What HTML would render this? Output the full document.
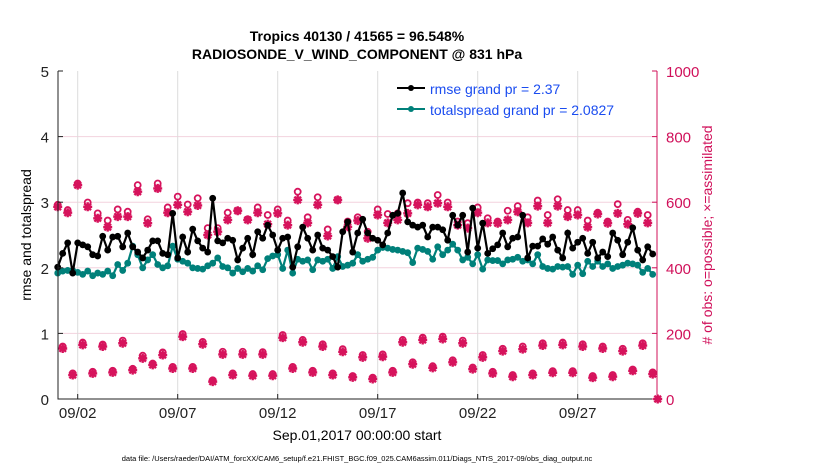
<!DOCTYPE html>
<html><head><meta charset="utf-8"><style>
body{margin:0;background:#fff;width:830px;height:470px;overflow:hidden}
svg{font-family:"Liberation Sans",Arial,sans-serif}
</style></head><body>
<svg id="chart" width="830" height="470" xmlns="http://www.w3.org/2000/svg">
<text x="357" y="41" text-anchor="middle" font-size="14" font-weight="bold">Tropics 40130 / 41565 = 96.548%</text>
<text x="357" y="59" text-anchor="middle" font-size="14" font-weight="bold">RADIOSONDE_V_WIND_COMPONENT @ 831 hPa</text>
<g id="grid"></g>
<g id="marks"></g>
<g id="axes"></g>
<text transform="translate(31,235) rotate(-90)" text-anchor="middle" font-size="14">rmse and totalspread</text>
<text transform="translate(712,235) rotate(-90)" text-anchor="middle" font-size="14" fill="#d0105a"># of obs: o=possible; ×=assimilated</text>
<text x="357" y="440" text-anchor="middle" font-size="14">Sep.01,2017 00:00:00 start</text>
<text x="357" y="461" text-anchor="middle" font-size="7.5">data file: /Users/raeder/DAI/ATM_forcXX/CAM6_setup/f.e21.FHIST_BGC.f09_025.CAM6assim.011/Diags_NTrS_2017-09/obs_diag_output.nc</text>
<g>
<line x1="397" y1="88" x2="425" y2="88" stroke="#000" stroke-width="2"/><circle cx="411" cy="88" r="3" fill="#000"/>
<text x="430" y="94" font-size="14" fill="#1a4cf0">rmse grand pr = 2.37</text>
<line x1="397" y1="109" x2="425" y2="109" stroke="#00807a" stroke-width="2"/><circle cx="411" cy="109" r="3" fill="#00807a"/>
<text x="430" y="115" font-size="14" fill="#1a4cf0">totalspread grand pr = 2.0827</text>
</g>
</svg>
<script>
const rmse=[2.01,2.22,2.38,1.92,2.38,2.35,2.32,2.2,2.18,2.48,2.27,2.47,2.48,2.32,2.53,2.32,2.24,2.15,2.27,2.41,2.41,2.22,2.2,2.83,2.15,2.47,2.24,2.59,2.41,2.3,2.24,3.06,2.41,2.38,2.45,2.42,2.12,2.3,2.45,2.2,2.55,
2.45,2.65,2.5,2.27,2.45,2.47,2.01,2.32,2.62,2.45,2.27,2.5,2.3,2.27,2.17,2.01,2.55,2.7,2.24,2.53,2.74,2.53,2.45,2.42,2.35,2.53,2.8,2.83,3.14,2.7,2.65,2.62,2.65,2.47,2.62,2.62,2.58,2.42,2.8,2.65,
2.8,2.24,2.91,2.3,2.68,2.22,2.29,2.35,2.53,2.32,2.45,2.47,2.8,2.15,2.33,2.33,2.44,2.36,2.47,2.27,2.15,2.53,2.3,2.39,2.45,2.22,2.39,2.15,2.24,2.17,2.53,2.42,2.2,2.39,2.61,2.27,2.12,2.32,2.21];
const spread=[1.92,1.95,1.96,1.96,1.93,1.9,1.95,1.88,1.92,1.9,1.95,1.88,2.05,1.96,2.07,2.33,2.2,2.0,2.12,2.2,2.05,2.0,2.03,2.33,2.13,2.1,2.07,2.0,1.99,1.98,2.03,2.07,2.15,2.02,2.0,1.92,1.99,1.94,1.99,1.95,2.03,
1.97,2.14,2.18,2.2,1.99,2.27,1.92,2.13,2.1,2.12,1.97,2.12,2.1,2.13,1.99,2.17,2.02,2.04,2.07,2.2,2.1,2.13,2.16,2.27,2.31,2.3,2.28,2.27,2.25,2.23,2.08,2.3,2.28,2.25,2.13,2.32,2.2,2.27,2.36,2.27,
2.12,2.16,2.06,2.2,1.98,2.12,2.11,2.11,2.06,2.12,2.13,2.16,2.1,2.12,2.06,2.2,2.02,1.99,1.98,2.02,2.01,2.02,1.9,2.04,1.91,2.1,2.02,2.1,2.02,2.06,1.99,2.02,2.04,2.07,2.06,2.04,1.93,1.99,1.9];
const possibleHigh=[592,576,657,599,566,544,578,571,652,548,657,584,617,593,612,521,521,568,574,548,584,561,578,544,632,554,615,517,607,541,554,510,578,564,566,597,599,597,622,599,541,536,584,551,541,574,588,554,605,561,609,576,576,544,568,541,594,546,571,561];
const assimHigh=[586,568,652,586,551,524,556,556,632,536,642,568,592,571,590,500,510,546,574,546,568,533,566,530,607,537,592,497,607,525,544,490,561,537,546,566,592,586,597,586,530,521,568,537,536,546,571,537,588,537,588,556,561,524,564,536,566,533,566,537];
const assimLow=[154,73,165,78,160,81,170,88,124,104,134,93,190,93,167,53,136,73,136,71,136,71,187,93,173,81,160,73,144,66,127,61,129,81,173,106,180,95,183,112,170,91,127,78,146,68,152,73,163,80,165,80,160,65,154,68,146,86,163,76];
const possibleLow=[160,78,172,83,166,86,178,92,132,108,142,98,198,98,174,57,144,78,144,76,143,76,195,98,180,86,167,78,152,70,134,65,136,86,180,112,187,100,190,118,178,96,134,83,153,73,160,78,170,85,172,85,167,70,160,73,153,90,170,81];
const xTicks=["09/02","09/07","09/12","09/17","09/22","09/27"];
const xTickDays=[1,6,11,16,21,26];
const yTicksL=[0,1,2,3,4,5];
const yTicksR=[0,200,400,600,800,1000];

const NS="http://www.w3.org/2000/svg";
const X0=57.7,PX_DAY=20,L=58,R=657,T=71,B=399;
const xDay=d=>X0+d*PX_DAY;
const xIdx=i=>xDay(i/4);
const yL=v=>B-(v/5)*(B-T);
const yR=c=>B-(c/1000)*(B-T);
function mk(tag,attrs,parent){const e=document.createElementNS(NS,tag);for(const k in attrs)e.setAttribute(k,attrs[k]);parent.appendChild(e);return e;}
const grid=document.getElementById('grid'),marks=document.getElementById('marks'),axes=document.getElementById('axes');

yTicksR.slice(1,5).forEach(c=>{const l=mk('line',{x1:L,x2:R,y1:yR(c),y2:yR(c),stroke:'#f3d2de','stroke-width':1},grid);

});
xTickDays.forEach(d=>{const l=mk('line',{x1:xDay(d),x2:xDay(d),y1:T,y2:B,stroke:'#dcdcdc','stroke-width':1},grid);

});

const MC='#d6135c';
function star(cx,cy){const g=mk('g',{},marks);


mk('path',{d:`M${cx-4.5},${cy}H${cx+4.5}M${cx},${cy-4.5}V${cy+4.5}M${cx-3.3},${cy-3.3}L${cx+3.3},${cy+3.3}M${cx-3.3},${cy+3.3}L${cx+3.3},${cy-3.3}`,stroke:MC,'stroke-width':2.4},g);}
function ring(cx,cy){const c=mk('circle',{cx:cx,cy:cy,r:3,fill:'none',stroke:MC,'stroke-width':1.8},marks);

}
possibleHigh.forEach((c,k)=>ring(xIdx(2*k),yR(c)));
assimHigh.forEach((c,k)=>star(xIdx(2*k),yR(c)));
possibleLow.forEach((c,k)=>ring(xIdx(2*k+1),yR(c)));
assimLow.forEach((c,k)=>star(xIdx(2*k+1),yR(c)));
star(xIdx(120),yR(0));

function series(vals,color,name){
const p=mk('polyline',{points:vals.map((v,i)=>xIdx(i)+','+yL(v)).join(' '),fill:'none',stroke:color,'stroke-width':2.2},marks);


vals.forEach((v,i)=>{const c=mk('circle',{cx:xIdx(i),cy:yL(v),r:3.4,fill:color},marks);

});}
series(spread,'#00807a','totalspread');
series(rmse,'#000','rmse');

const lax=mk('path',{d:`M${L},${T}V${B}H${R}`,stroke:'#222',fill:'none','stroke-width':1},axes);


const rax=mk('line',{x1:R,x2:R,y1:T,y2:B,stroke:'#d0105a','stroke-width':1},axes);


yTicksL.forEach(v=>{mk('line',{x1:L,x2:L+5,y1:yL(v),y2:yL(v),stroke:'#222'},axes);
const t=mk('text',{x:L-9,y:yL(v)+6,'text-anchor':'end','font-size':'15',fill:'#222'},axes);t.textContent=v;

});
yTicksR.forEach(c=>{mk('line',{x1:R-5,x2:R,y1:yR(c),y2:yR(c),stroke:'#d0105a'},axes);
const t=mk('text',{x:R+9,y:yR(c)+6,'font-size':'15',fill:'#d0105a'},axes);t.textContent=c;

});
xTicks.forEach((s,k)=>{const x=xDay(xTickDays[k]);mk('line',{x1:x,x2:x,y1:B,y2:B-5,stroke:'#222'},axes);
const t=mk('text',{x:x,y:B+19,'text-anchor':'middle','font-size':'15',fill:'#222'},axes);t.textContent=s;

});
</script>
</body></html>
